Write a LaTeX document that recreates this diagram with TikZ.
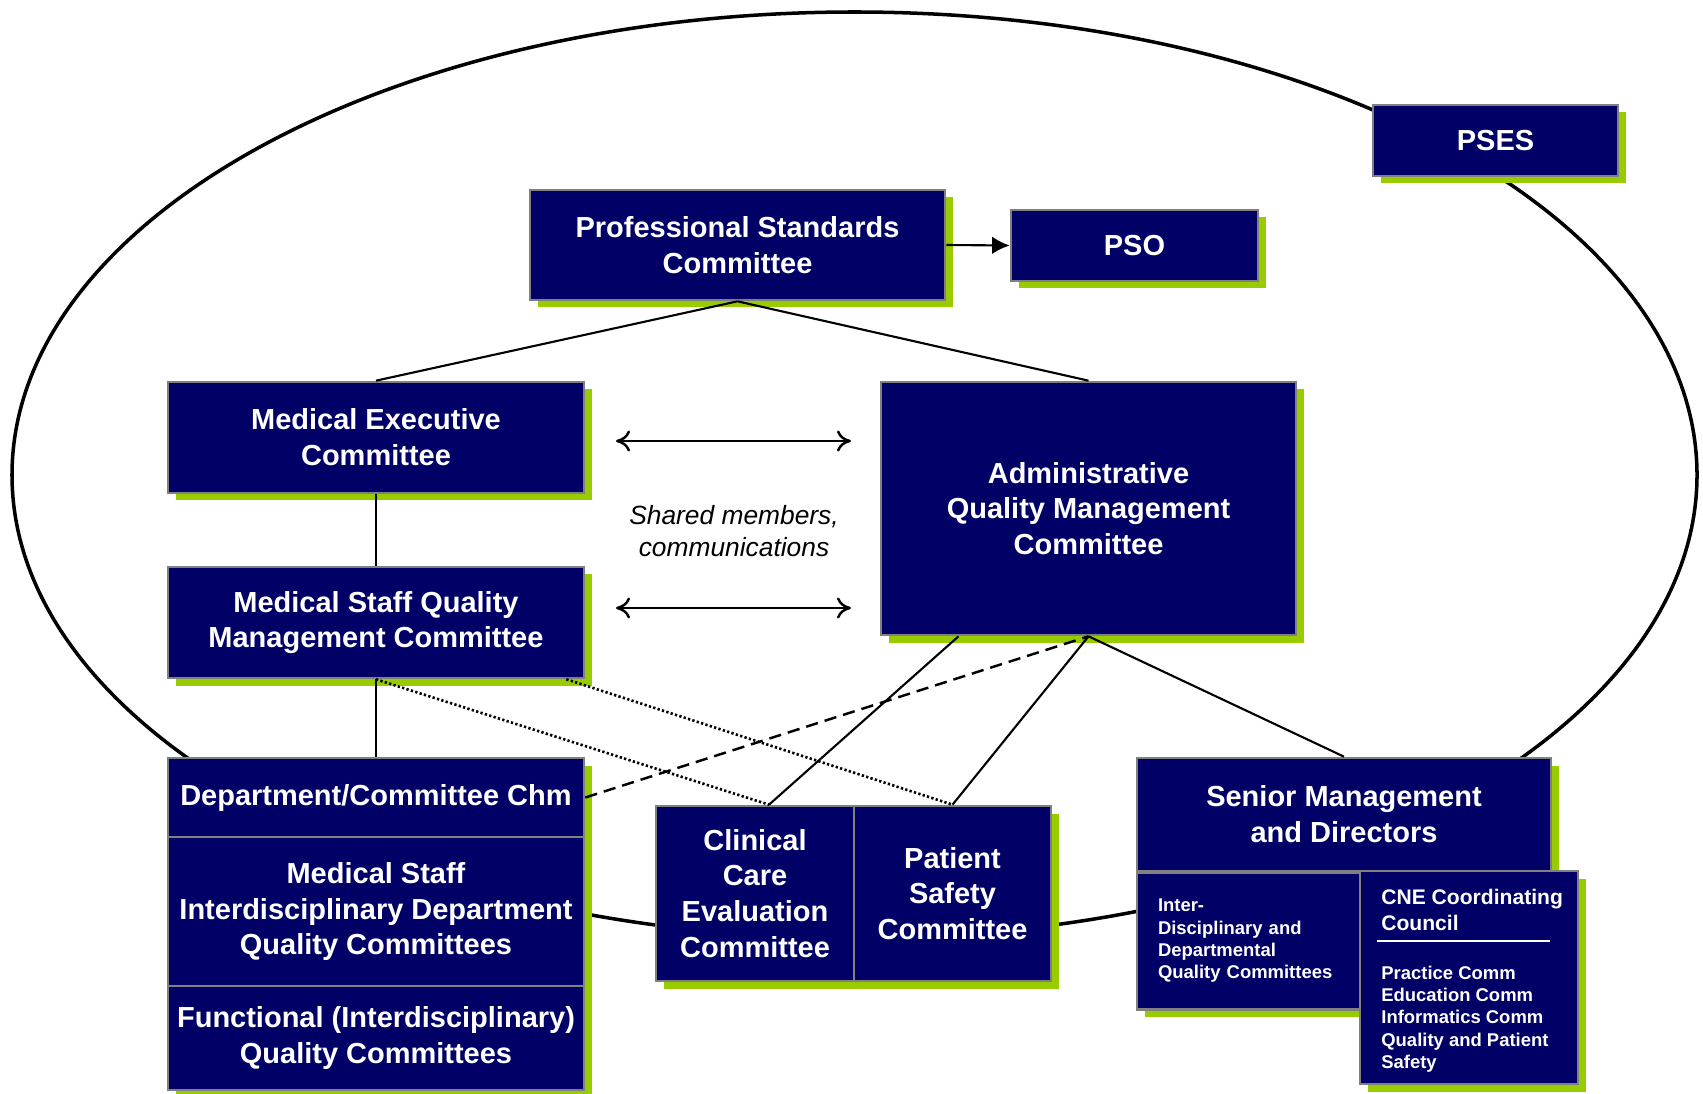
\documentclass[tikz,border=0pt]{standalone}
\usepackage{fontspec}
\setmainfont{Liberation Sans}
\usepackage{tikz}
\usetikzlibrary{arrows.meta,shadows,calc}
\definecolor{qnavy}{RGB}{0,0,102}
\definecolor{qlime}{RGB}{153,204,0}
\definecolor{qedge}{RGB}{128,128,128}
\tikzset{box/.style 2 args={draw=qedge, line width=1.5pt, fill=qnavy, text=white,
  font=\bfseries\fontsize{16.5}{20.4}\selectfont, align=center, inner sep=2pt,
  minimum width=#1*0.02cm, minimum height=#2*0.02cm,
  drop shadow={shadow xshift=0.15cm, shadow yshift=-0.15cm, fill=qlime, opacity=1}}}
\tikzset{small/.style={text=white, inner sep=0pt, align=left, font=\bfseries\fontsize{10.5}{12.7}\selectfont}}
\tikzset{link/.style={line width=1.2pt}}
\tikzset{dots/.style={line width=1.5pt, dash pattern=on 1.3pt off 1.3pt}}
\tikzset{twoway/.style={line width=1.4pt, {To[length=8pt,width=12pt]}-{To[length=8pt,width=12pt]}}}

\begin{document}
\begin{tikzpicture}[x=0.02cm, y=-0.02cm]
\useasboundingbox (0,0) rectangle (1703,1094);
\draw[line width=2pt] (854.5,475) ellipse [x radius=842.5, y radius=463];

\node[box={415}{110}] (psc) at (737.5,245) {Professional Standards\\Committee};
\node[box={247}{71}] (pso) at (1134.5,245.5) {PSO};
\node[box={245}{71}] (pses) at (1495.5,140.5) {PSES};
\node[box={416}{111}] (mec) at (376,437.5) {Medical Executive\\Committee};
\node[box={416}{111}] (msq) at (376,622.5) {Medical Staff Quality\\Management Committee};
\node[box={415}{253}] (aqmc) at (1088.5,508.5) {Administrative\\Quality Management\\Committee};

\node[box={416}{79}] (dept) at (376,797.5) {Department/Committee Chm};
\node[box={416}{149}] (mstaff) at (376,911.5) {Medical Staff\\Interdisciplinary Department\\Quality Committees};
\node[box={416}{104}] (func) at (376,1038) {Functional (Interdisciplinary)\\Quality Committees};

\node[box={198}{175}] (clin) at (755,893.5) {Clinical\\Care\\Evaluation\\Committee};
\node[box={197}{175}] (pat) at (952.5,893.5) {Patient\\Safety\\Committee};

\node[box={414}{113}] (senior) at (1344,814.5) {Senior Management\\and Directors};
\node[box={223}{137}, small, text width=181*0.02cm] (inter) at (1248.5,941) {Inter-\\Disciplinary and\\Departmental\\Quality Committees};
\node[box={218}{213}] (cne) at (1469,977.5) {};
\node[small, anchor=west, font=\bfseries\fontsize{12}{14.7}\selectfont] (cnehead) at (1381,910) {CNE Coordinating\\Council};
\draw[white, line width=1.2pt] (1377,941) -- (1550,941);
\node[small, anchor=west] (cnelist) at (1381,1019) {Practice Comm\\Education Comm\\Informatics Comm\\Quality and Patient\\Safety};

\node[align=center, font=\itshape\fontsize{15}{17.9}\selectfont] (shared) at (734,531) {Shared members,\\communications};

\coordinate (s1) at (616,441);
\coordinate (e1) at (851,441);
\coordinate (s2) at (616,608);
\coordinate (e2) at (851,608);
\coordinate (cctop) at ($(clin.north)+(14,0)$);
\coordinate (aqleft) at ($(aqmc.south)+(-130,0)$);
\coordinate (msqright) at ($(msq.south east)+(-19,0)$);

\draw[link, -{Latex[length=10pt,width=10pt]}] (psc.east) -- (pso.west);
\draw[link] (psc.south) -- (mec.north);
\draw[link] (psc.south) -- (aqmc.north);
\draw[link] (mec) -- (msq);
\draw[link] (msq) -- (dept);
\draw[twoway] (s1) -- (e1);
\draw[twoway] (s2) -- (e2);
\draw[dots] (msq.south) -- (cctop);
\draw[dots] (msqright) -- (pat.north);
\draw[link] (aqleft) -- (cctop);
\draw[link] (aqmc.south) -- (pat.north);
\draw[line width=1.4pt, dash pattern=on 7pt off 4pt] (dept.east) -- (aqmc.south);
\draw[link] (aqmc.south) -- (senior.north);
\end{tikzpicture}
\end{document}
